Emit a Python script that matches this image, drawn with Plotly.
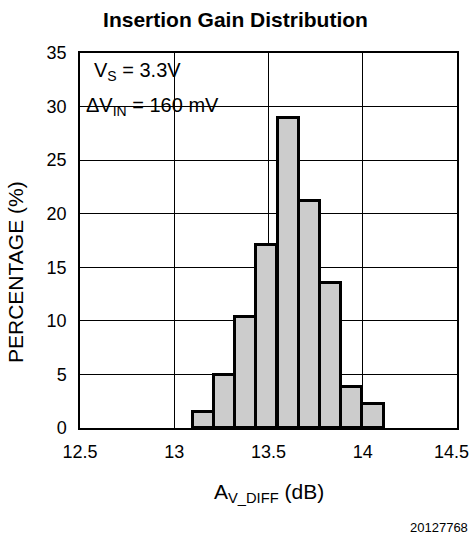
import plotly.graph_objects as go

# Data
bin_centers = [13.156, 13.268, 13.378, 13.491, 13.605, 13.718, 13.829, 13.942, 14.054]
percentages = [1.5, 4.95, 10.4, 17.1, 28.9, 21.2, 13.5, 3.8, 2.25]
bin_width = 0.1123

x_ticks = [12.5, 13, 13.5, 14, 14.5]
x_tick_labels = ["12.5", "13", "13.5", "14", "14.5"]
y_ticks = [0, 5, 10, 15, 20, 25, 30, 35]
y_tick_labels = [str(v) for v in y_ticks]

FONT = "Liberation Sans, Arial, Helvetica, sans-serif"

fig = go.Figure()
fig.add_trace(go.Bar(
    x=bin_centers, y=percentages, width=bin_width,
    marker=dict(color="#cccccc", line=dict(color="black", width=3)),
    showlegend=False, hoverinfo="skip",
))

fig.update_layout(
    width=471, height=536,
    margin=dict(l=80, r=14, t=53, b=108),
    paper_bgcolor="white", plot_bgcolor="white",
    font=dict(family=FONT, color="black", size=18),
    title=dict(text="<b>Insertion Gain Distribution</b>", x=0.5, xanchor="center",
               y=1 - 20 / 536, yanchor="middle", xref="container",
               font=dict(family=FONT, size=21, color="black")),
    bargap=0,
)

# last x tick label sits flush with the right edge of the image -> drawn as annotation
axis_tick_text = x_tick_labels[:-1] + [""]

fig.update_xaxes(
    range=[12.5, 14.5], tickvals=x_ticks, ticktext=axis_tick_text,
    showgrid=True, gridcolor="black", gridwidth=1,
    showline=True, linecolor="black", linewidth=1.5, mirror=True,
    ticks="", ticklabelstandoff=7, zeroline=False, ticklabeloverflow="allow",
    automargin=False, tickfont=dict(size=18),
)
fig.update_yaxes(
    range=[0, 35], tickvals=y_ticks, ticktext=y_tick_labels,
    showgrid=True, gridcolor="black", gridwidth=1,
    showline=True, linecolor="black", linewidth=1.5, mirror=True,
    ticks="", ticklabelstandoff=8, zeroline=False,
    automargin=False, tickfont=dict(size=18),
)

fig.add_annotation(text=x_tick_labels[-1], xref="paper", yref="paper",
                   x=(471 - 80) / 377, y=(428 - 452) / 375, xanchor="right", yanchor="middle",
                   showarrow=False, font=dict(size=18))

# white backing behind the condition text (covers gridlines)
fig.add_shape(type="rect", xref="paper", yref="paper",
              x0=(85 - 80) / 377, x1=(222 - 80) / 377,
              y0=(428 - 120) / 375, y1=(428 - 60) / 375,
              fillcolor="white", line=dict(width=0), layer="between")

fig.add_annotation(text="V<sub>S</sub> = 3.3V", xref="paper", yref="paper",
                   x=(92 - 80) / 377, y=(428 - 72) / 375, xanchor="left", yanchor="middle",
                   showarrow=False, font=dict(size=20))
fig.add_annotation(text="ΔV<sub>IN</sub> = 160 mV", xref="paper", yref="paper",
                   x=(84 - 80) / 377, y=(428 - 106) / 375, xanchor="left", yanchor="middle",
                   showarrow=False, font=dict(size=20))

fig.add_annotation(text="A<sub>V_DIFF</sub> (dB)", xref="paper", yref="paper",
                   x=0.5, y=(428 - 493) / 375, xanchor="center", yanchor="middle",
                   showarrow=False, font=dict(size=21))
fig.add_annotation(text="PERCENTAGE (%)", xref="paper", yref="paper",
                   x=(15 - 80) / 377, y=(428 - 272) / 375, xanchor="center", yanchor="middle",
                   textangle=-90, showarrow=False, font=dict(size=21))
fig.add_annotation(text="20127768", xref="paper", yref="paper",
                   x=(470 - 80) / 377, y=(428 - 527) / 375, xanchor="right", yanchor="middle",
                   showarrow=False, font=dict(size=13))

fig.write_html("out.html", config={"displayModeBar": False},
               post_script="document.body.style.margin='0';")
